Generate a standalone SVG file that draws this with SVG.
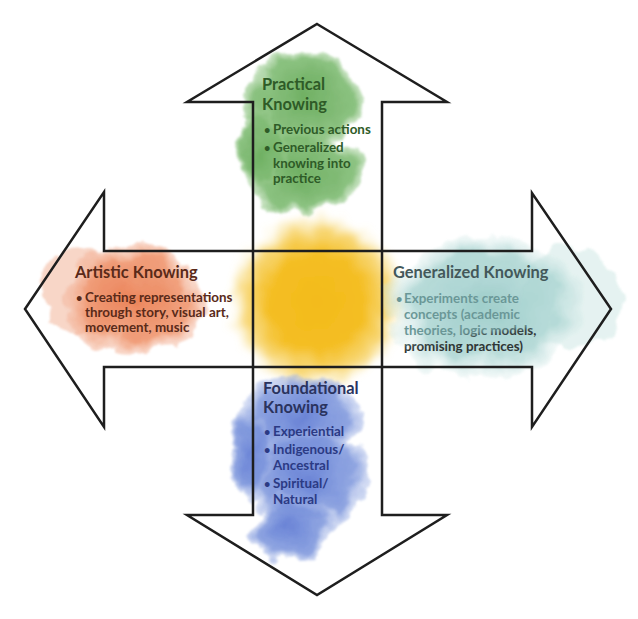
<svg xmlns="http://www.w3.org/2000/svg" width="638" height="619" viewBox="0 0 638 619">
<defs>
<style>
.t{font-family:Lato,"Open Sans","Liberation Sans",sans-serif;font-weight:700;font-size:16.4px}
.b{font-family:Lato,"Open Sans","Liberation Sans",sans-serif;font-weight:700;font-size:13.4px}
.d{font-family:Lato,"Open Sans","Liberation Sans",sans-serif;font-weight:700;font-size:11px}
.ln{fill:none;stroke:#1e1e1e;stroke-width:2.5;stroke-linejoin:miter}
</style>
<filter id="wc" x="-40%" y="-40%" width="180%" height="180%">
<feTurbulence type="fractalNoise" baseFrequency="0.03" numOctaves="4" seed="7" result="n"/>
<feDisplacementMap in="SourceGraphic" in2="n" scale="30" xChannelSelector="R" yChannelSelector="G" result="d"/>
<feGaussianBlur in="d" stdDeviation="1.2"/>
</filter>
<filter id="soft" x="-40%" y="-40%" width="180%" height="180%">
<feTurbulence type="fractalNoise" baseFrequency="0.06" numOctaves="3" seed="2" result="n"/>
<feDisplacementMap in="SourceGraphic" in2="n" scale="18" xChannelSelector="R" yChannelSelector="G" result="d"/>
<feGaussianBlur in="d" stdDeviation="3"/>
</filter>
<radialGradient id="gY">
<stop offset="0" stop-color="#f3bb1a"/>
<stop offset="0.55" stop-color="#f4be24"/>
<stop offset="0.8" stop-color="#f6cb4c" stop-opacity="0.75"/>
<stop offset="1" stop-color="#f8dc80" stop-opacity="0"/>
</radialGradient>
<radialGradient id="gG">
<stop offset="0" stop-color="#64aa56"/>
<stop offset="0.8" stop-color="#74b567" stop-opacity="0.9"/>
<stop offset="1" stop-color="#93c887" stop-opacity="0.5"/>
</radialGradient>
<radialGradient id="gO">
<stop offset="0" stop-color="#e9784a"/>
<stop offset="0.75" stop-color="#ee8d63" stop-opacity="0.9"/>
<stop offset="1" stop-color="#f3b398" stop-opacity="0.5"/>
</radialGradient>
<radialGradient id="gT">
<stop offset="0" stop-color="#95c9c6"/>
<stop offset="0.7" stop-color="#a7d3d0" stop-opacity="0.9"/>
<stop offset="1" stop-color="#cfe7e5" stop-opacity="0.3"/>
</radialGradient>
<radialGradient id="gB">
<stop offset="0" stop-color="#5a76d2"/>
<stop offset="0.75" stop-color="#6d89d8" stop-opacity="0.85"/>
<stop offset="1" stop-color="#a0b3e6" stop-opacity="0.45"/>
</radialGradient>
<linearGradient id="gTx" gradientUnits="userSpaceOnUse" x1="468.9" y1="327.1" x2="471.1" y2="342.9">
<stop offset="0" stop-color="#6a9797"/>
<stop offset="0.35" stop-color="#668f8f"/>
<stop offset="0.7" stop-color="#3a4646"/>
<stop offset="1" stop-color="#2e3535"/>
</linearGradient>
</defs>
<rect width="638" height="619" fill="#ffffff"/>

<g id="washes">
<g id="wash-yellow" filter="url(#soft)">
<circle cx="317" cy="302" r="88" fill="url(#gY)"/>
</g>
<g id="wash-green" filter="url(#wc)" opacity="0.92">
<ellipse cx="306" cy="98" rx="58" ry="50" fill="url(#gG)"/>
<ellipse cx="302" cy="172" rx="60" ry="42" fill="url(#gG)"/>
<ellipse cx="262" cy="150" rx="26" ry="34" fill="url(#gG)"/>
</g>
<g id="wash-orange" filter="url(#wc)" opacity="0.92">
<ellipse cx="86" cy="292" rx="45" ry="42" fill="#f2b49a" opacity="0.6"/>
<ellipse cx="135" cy="300" rx="70" ry="55" fill="url(#gO)"/>
</g>
<g id="wash-teal" filter="url(#wc)" opacity="0.9">
<ellipse cx="570" cy="300" rx="50" ry="55" fill="#cfe7e5" opacity="0.6"/>
<ellipse cx="485" cy="307" rx="100" ry="72" fill="url(#gT)"/>
</g>
<g id="wash-blue" filter="url(#wc)" opacity="0.9">
<ellipse cx="300" cy="418" rx="60" ry="45" fill="url(#gB)"/>
<ellipse cx="308" cy="478" rx="64" ry="45" fill="url(#gB)"/>
<ellipse cx="288" cy="530" rx="44" ry="32" fill="url(#gB)"/>
<ellipse cx="250" cy="452" rx="22" ry="40" fill="url(#gB)"/>
</g>
</g>

<g id="connectors">
<polygon class="ln" points="317,24 447,102 382,102 382,515 447,515 317,595 187,515 253,515 253,102 187,102"/>
<polygon class="ln" points="25,309 104,192 104,251 532,251 532,193 611,309 532,427 532,367 104,367 104,427"/>
</g>

<g id="practical" fill="#2e5b27">
<text class="t" x="262" y="90">Practical</text>
<text class="t" x="262" y="110">Knowing</text>
<text class="d" x="264" y="134">•</text>
<text class="b" x="273" y="134">Previous actions</text>
<text class="d" x="264" y="152">•</text>
<text class="b" x="273" y="152">Generalized</text>
<text class="b" x="273" y="168">knowing into</text>
<text class="b" x="273" y="183">practice</text>
</g>

<g id="artistic" fill="#5a2a19">
<text class="t" x="75" y="278">Artistic Knowing</text>
<text class="d" x="76" y="302">•</text>
<text class="b" x="85" y="302">Creating representations</text>
<text class="b" x="85" y="317">through story, visual art,</text>
<text class="b" x="85" y="332">movement, music</text>
</g>

<g id="generalized">
<text class="t" x="393" y="278" fill="#43585a">Generalized Knowing</text>
<g fill="url(#gTx)">
<text class="d" x="396" y="303">•</text>
<text class="b" x="404" y="303">Experiments create</text>
<text class="b" x="404" y="319">concepts (academic</text>
<text class="b" x="404" y="335">theories, logic models,</text>
<text class="b" x="404" y="351">promising practices)</text>
</g>
</g>

<g id="foundational">
<text class="t" x="263" y="394" fill="#2a335e">Foundational</text>
<text class="t" x="263" y="413" fill="#2a335e">Knowing</text>
<g fill="#2b3a84">
<text class="d" x="264" y="436">•</text>
<text class="b" x="273" y="436">Experiential</text>
<text class="d" x="264" y="454">•</text>
<text class="b" x="273" y="454">Indigenous/</text>
<text class="b" x="273" y="470">Ancestral</text>
<text class="d" x="264" y="488">•</text>
<text class="b" x="273" y="488">Spiritual/</text>
<text class="b" x="273" y="504">Natural</text>
</g>
</g>
</svg>
